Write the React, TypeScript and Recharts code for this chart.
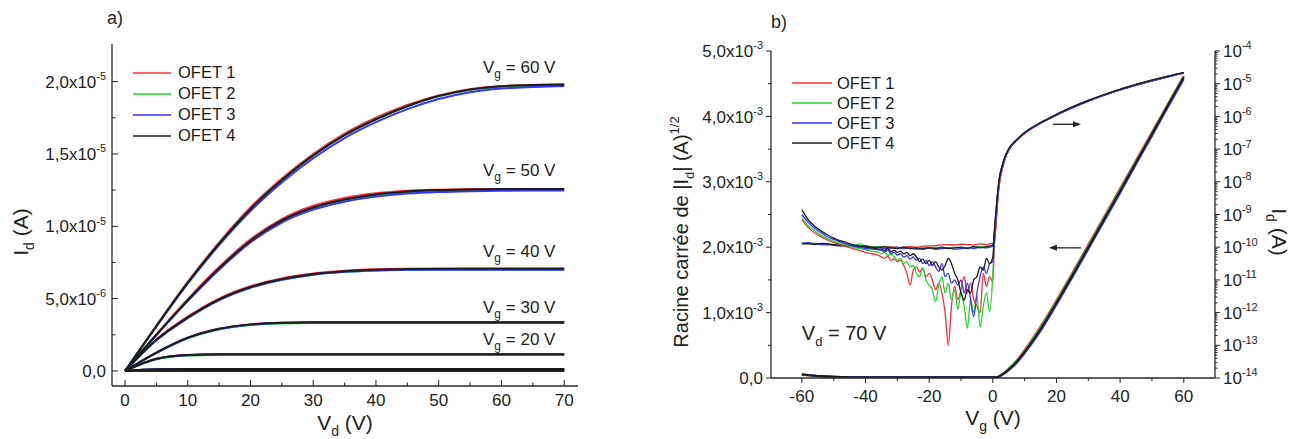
import React from 'react';
import { LineChart, Line, XAxis, YAxis, ReferenceDot, ReferenceLine, Legend } from 'recharts';

const FONT = '"Liberation Sans", Arial, Helvetica, sans-serif';
const INK = '#222';
const TICK_FS = 17;

const ofetNames = ['OFET 1', 'OFET 2', 'OFET 3', 'OFET 4'];
const ofetColors = ['#ff2b3a', '#22d82a', '#3535ff', '#1c1c1c'];

// ---------------- Panel a : output curves, Id (µA) vs Vd (V)
const vdValues = [0, 5, 10, 15, 20, 25, 30, 35, 40, 45, 50, 55, 60, 65, 70];
const vgCurveLevels = [60, 50, 40, 30, 20, 10, 0];

const idOfet1 = [
  [0, 3.13, 6.16, 8.88, 11.3, 13.3, 15.0, 16.4, 17.5, 18.38, 19.05, 19.48, 19.69, 19.77, 19.8],
  [0, 2.53, 4.96, 7.18, 9.1, 10.5, 11.42, 11.96, 12.28, 12.46, 12.53, 12.57, 12.58, 12.58, 12.58],
  [0, 2.17, 3.75, 5.0, 5.85, 6.4, 6.74, 6.93, 7.03, 7.06, 7.07, 7.08, 7.08, 7.08, 7.08],
  [0, 1.27, 2.3, 2.92, 3.22, 3.33, 3.36, 3.36, 3.36, 3.36, 3.36, 3.36, 3.36, 3.36, 3.36],
  [0, 0.85, 1.1, 1.15, 1.16, 1.16, 1.16, 1.16, 1.16, 1.16, 1.16, 1.16, 1.16, 1.16, 1.16],
  [0, 0.12, 0.14, 0.14, 0.14, 0.14, 0.14, 0.14, 0.14, 0.14, 0.14, 0.14, 0.14, 0.14, 0.14],
  [0, 0.01, 0.01, 0.01, 0.01, 0.01, 0.01, 0.01, 0.01, 0.01, 0.01, 0.01, 0.01, 0.01, 0.01],
];
const idOfet2 = [
  [0, 3.1, 6.1, 8.8, 11.2, 13.2, 14.9, 16.3, 17.4, 18.3, 18.98, 19.42, 19.64, 19.72, 19.77],
  [0, 2.5, 4.88, 7.07, 8.97, 10.37, 11.27, 11.8, 12.15, 12.35, 12.45, 12.5, 12.53, 12.54, 12.54],
  [0, 2.12, 3.66, 4.9, 5.75, 6.3, 6.65, 6.85, 6.95, 6.99, 7.01, 7.01, 7.01, 7.01, 7.01],
  [0, 1.23, 2.25, 2.87, 3.17, 3.28, 3.31, 3.31, 3.31, 3.31, 3.31, 3.31, 3.31, 3.31, 3.31],
  [0, 0.8, 1.06, 1.11, 1.12, 1.12, 1.12, 1.12, 1.12, 1.12, 1.12, 1.12, 1.12, 1.12, 1.12],
  [0, 0.11, 0.13, 0.13, 0.13, 0.13, 0.13, 0.13, 0.13, 0.13, 0.13, 0.13, 0.13, 0.13, 0.13],
  [0, 0.005, 0.005, 0.005, 0.005, 0.005, 0.005, 0.005, 0.005, 0.005, 0.005, 0.005, 0.005, 0.005, 0.005],
];
const idOfet3 = [
  [0, 3.07, 6.03, 8.7, 11.05, 13.02, 14.7, 16.1, 17.2, 18.1, 18.8, 19.27, 19.52, 19.63, 19.7],
  [0, 2.47, 4.83, 7.0, 8.88, 10.26, 11.15, 11.7, 12.05, 12.26, 12.37, 12.43, 12.46, 12.47, 12.48],
  [0, 2.12, 3.65, 4.9, 5.75, 6.3, 6.65, 6.85, 6.95, 6.99, 7.0, 7.0, 7.0, 7.0, 7.0],
  [0, 1.25, 2.28, 2.9, 3.2, 3.31, 3.34, 3.34, 3.34, 3.34, 3.34, 3.34, 3.34, 3.34, 3.34],
  [0, 0.83, 1.08, 1.13, 1.14, 1.14, 1.14, 1.14, 1.14, 1.14, 1.14, 1.14, 1.14, 1.14, 1.14],
  [0, 0.12, 0.14, 0.14, 0.14, 0.14, 0.14, 0.14, 0.14, 0.14, 0.14, 0.14, 0.14, 0.14, 0.14],
  [0, 0.01, 0.01, 0.01, 0.01, 0.01, 0.01, 0.01, 0.01, 0.01, 0.01, 0.01, 0.01, 0.01, 0.01],
];
const idOfet4 = [
  [0, 3.1, 6.1, 8.8, 11.2, 13.2, 14.9, 16.3, 17.4, 18.3, 19.0, 19.45, 19.68, 19.76, 19.8],
  [0, 2.5, 4.9, 7.1, 9.0, 10.4, 11.3, 11.85, 12.2, 12.4, 12.5, 12.55, 12.57, 12.57, 12.57],
  [0, 2.15, 3.7, 4.95, 5.8, 6.35, 6.7, 6.9, 7.0, 7.04, 7.06, 7.06, 7.06, 7.06, 7.06],
  [0, 1.27, 2.3, 2.92, 3.22, 3.33, 3.36, 3.36, 3.36, 3.36, 3.36, 3.36, 3.36, 3.36, 3.36],
  [0, 0.84, 1.1, 1.15, 1.16, 1.16, 1.16, 1.16, 1.16, 1.16, 1.16, 1.16, 1.16, 1.16, 1.16],
  [0, 0.12, 0.14, 0.14, 0.14, 0.14, 0.14, 0.14, 0.14, 0.14, 0.14, 0.14, 0.14, 0.14, 0.14],
  [0, 0.01, 0.01, 0.01, 0.01, 0.01, 0.01, 0.01, 0.01, 0.01, 0.01, 0.01, 0.01, 0.01, 0.01],
];

const vgLabelLevels = [60, 50, 40, 30, 20];
const vgLabelIdMicro = [20.6, 13.45, 7.9, 4.0, 1.8];

const vdTicksMajor = [0, 10, 20, 30, 40, 50, 60, 70];
const vdTicksMinor = [5, 15, 25, 35, 45, 55, 65];
const idTicksMajor = [0, 5e-6, 1e-5, 1.5e-5, 2e-5];
const idTicksMinor = [2.5e-6, 7.5e-6, 1.25e-5, 1.75e-5];

// ---------------- Panel b : transfer curves, Vd = 70 V
// log10(Id / A) for the sweep that stays flat near 1e-10 A
const vgFlatSweep = [-60, -58, -56, -54, -52, -50, -48, -46, -44, -42, -40, -38, -36, -34, -32, -30, -28, -26, -24, -22, -20, -18, -16, -14, -12, -10, -8, -6, -4, -2, 0];
const logIdFlatOfet1 = [-9.88, -9.9, -9.88, -9.92, -9.9, -9.94, -9.92, -9.96, -9.94, -9.98, -9.96, -10.0, -9.98, -10.0, -9.98, -10.02, -10.0, -9.98, -10.0, -9.97, -9.96, -9.95, -9.93, -9.92, -9.93, -9.91, -9.92, -9.93, -9.9, -9.92, -9.88];
const logIdFlatOfet2 = [-9.86, -9.9, -9.88, -9.9, -9.94, -9.92, -9.96, -9.94, -9.98, -9.9, -9.96, -10.0, -9.98, -10.02, -10.0, -10.04, -10.0, -10.02, -10.04, -10.0, -10.02, -10.0, -10.04, -10.02, -10.0, -10.04, -10.02, -10.0, -9.98, -10.0, -9.94];
const logIdFlatOfet3 = [-9.88, -9.86, -9.9, -9.92, -9.9, -9.94, -9.96, -9.94, -9.98, -10.0, -9.98, -10.02, -10.0, -10.04, -10.02, -10.0, -10.04, -10.02, -10.06, -10.04, -10.02, -10.06, -10.04, -10.02, -10.06, -10.04, -10.02, -10.04, -10.0, -10.02, -9.96];
const logIdFlatOfet4 = [-9.9, -9.88, -9.92, -9.88, -9.9, -9.92, -9.94, -9.96, -9.94, -9.98, -9.96, -10.0, -10.02, -9.98, -10.02, -10.04, -10.0, -10.04, -10.02, -10.06, -10.02, -10.04, -10.0, -10.04, -10.02, -10.0, -10.04, -9.98, -10.02, -9.98, -9.94];

// log10(Id / A) for the sweep with the decaying tail and noisy off-current
const vgNoisySweep = [-60, -58, -56, -54, -52, -50, -48, -46, -44, -42, -40, -38, -36, -35, -34, -33, -32, -31, -30, -29, -28, -27, -26, -25, -24, -23, -22, -21, -20, -19, -18, -17, -16, -15, -14, -13, -12, -11, -10, -9, -8, -7, -6, -5, -4, -3, -2, -1, 0];
const logIdNoisyOfet1 = [-9.16, -9.4, -9.56, -9.68, -9.78, -9.86, -9.92, -9.98, -10.04, -10.1, -10.16, -10.2, -10.24, -10.3, -10.34, -10.28, -10.4, -10.36, -10.44, -10.4, -10.56, -10.8, -11.16, -10.7, -10.6, -10.76, -10.64, -10.9, -10.8, -11.0, -11.3, -11.1, -11.4, -12.0, -13.0, -11.8, -11.2, -11.6, -11.3, -10.9, -11.4, -11.1, -11.6, -11.8, -12.0, -10.8, -11.2, -10.9, -11.06];
const logIdNoisyOfet2 = [-9.1, -9.34, -9.5, -9.64, -9.74, -9.82, -9.88, -9.94, -10.0, -10.04, -10.08, -10.12, -10.16, -10.2, -10.16, -10.26, -10.2, -10.3, -10.4, -10.34, -10.5, -10.44, -10.6, -10.56, -10.8, -10.9, -10.64, -11.0, -11.16, -11.3, -11.66, -11.2, -10.9, -11.4, -11.1, -11.6, -11.3, -11.9, -11.4, -11.8, -12.48, -11.6, -12.0, -11.5, -12.44, -11.8, -11.4, -11.98, -10.8];
const logIdNoisyOfet3 = [-9.0, -9.24, -9.42, -9.56, -9.68, -9.76, -9.84, -9.9, -9.96, -10.0, -10.04, -10.06, -10.08, -10.1, -10.14, -10.1, -10.2, -10.16, -10.24, -10.2, -10.3, -10.26, -10.36, -10.3, -10.4, -10.34, -10.5, -10.4, -10.56, -10.44, -10.6, -10.74, -10.5, -10.9, -10.8, -11.1, -11.0, -11.16, -11.0, -11.4, -11.1, -11.6, -12.12, -11.4, -10.9, -10.6, -10.8, -10.5, -10.44];
const logIdNoisyOfet4 = [-8.86, -9.16, -9.36, -9.5, -9.62, -9.72, -9.8, -9.86, -9.92, -9.96, -10.0, -10.02, -10.06, -10.06, -10.1, -10.04, -10.14, -10.1, -10.16, -10.12, -10.2, -10.16, -10.26, -10.2, -10.3, -10.44, -10.36, -10.5, -10.4, -10.56, -10.44, -10.6, -10.7, -10.56, -10.34, -10.5, -10.8, -11.0, -11.4, -11.62, -11.3, -11.4, -11.0, -10.9, -10.6, -10.7, -10.34, -10.5, -10.3];

// log10(Id / A) in the on-state
const vgRise = [0.5, 1, 1.5, 2, 3, 4, 5, 7.5, 10, 15, 20, 25, 30, 35, 40, 45, 50, 55, 60];
const logIdRiseOfet1 = [-9.9, -9.3, -8.6, -8.1, -7.6, -7.25, -7.03, -6.74, -6.52, -6.21, -5.96, -5.73, -5.53, -5.35, -5.19, -5.04, -4.91, -4.79, -4.68];
const logIdRiseOfet2 = [-9.6, -9.0, -8.4, -7.95, -7.5, -7.2, -7.0, -6.72, -6.5, -6.2, -5.95, -5.72, -5.52, -5.34, -5.18, -5.03, -4.9, -4.78, -4.67];
const logIdRiseOfet3 = [-9.7, -9.1, -8.5, -8.0, -7.55, -7.23, -7.02, -6.73, -6.51, -6.21, -5.96, -5.73, -5.53, -5.35, -5.19, -5.04, -4.91, -4.79, -4.68];
const logIdRiseOfet4 = [-9.5, -8.9, -8.35, -7.92, -7.48, -7.19, -6.99, -6.71, -6.49, -6.19, -5.94, -5.71, -5.51, -5.33, -5.17, -5.02, -4.89, -4.77, -4.66];

// sqrt(|Id|) in units of 1e-3 A^1/2
const vgSqrt = [-60, -58, -56, -54, -52, -50, -45, -40, -30, -20, -10, 0, 1, 2, 3, 4, 5, 7.5, 10, 15, 20, 25, 30, 35, 40, 45, 50, 55, 60];
const sqrtIdOfet1 = [0.05, 0.04, 0.033, 0.027, 0.022, 0.018, 0.012, 0.01, 0.01, 0.01, 0.01, 0.01, 0.012, 0.03, 0.065, 0.1, 0.145, 0.27, 0.43, 0.79, 1.19, 1.61, 2.04, 2.47, 2.9, 3.33, 3.76, 4.19, 4.62];
const sqrtIdOfet2 = [0.05, 0.042, 0.034, 0.028, 0.022, 0.018, 0.012, 0.01, 0.01, 0.01, 0.01, 0.01, 0.011, 0.027, 0.06, 0.095, 0.135, 0.26, 0.41, 0.77, 1.17, 1.59, 2.02, 2.45, 2.88, 3.31, 3.74, 4.18, 4.61];
const sqrtIdOfet3 = [0.053, 0.044, 0.035, 0.028, 0.023, 0.019, 0.013, 0.01, 0.01, 0.01, 0.01, 0.01, 0.01, 0.022, 0.048, 0.08, 0.12, 0.23, 0.38, 0.72, 1.12, 1.54, 1.97, 2.4, 2.83, 3.27, 3.7, 4.14, 4.57];
const sqrtIdOfet4 = [0.056, 0.046, 0.036, 0.029, 0.023, 0.019, 0.013, 0.01, 0.01, 0.01, 0.01, 0.01, 0.011, 0.026, 0.056, 0.09, 0.13, 0.25, 0.4, 0.75, 1.15, 1.57, 2.0, 2.43, 2.86, 3.3, 3.73, 4.17, 4.6];

const vgTicksMajor = [-60, -40, -20, 0, 20, 40, 60];
const vgTicksMinor = [-50, -30, -10, 10, 30, 50];
const sqrtTicksMajor = [0, 1e-3, 2e-3, 3e-3, 4e-3, 5e-3];
const sqrtTicksMinor = [0.5e-3, 1.5e-3, 2.5e-3, 3.5e-3, 4.5e-3];
const logTicksMajor = [1e-14, 1e-13, 1e-12, 1e-11, 1e-10, 1e-9, 1e-8, 1e-7, 1e-6, 1e-5, 1e-4];
const logTicksMinor = logTicksMajor.slice(0, -1).flatMap((m) => [2, 3, 4, 5, 6, 7, 8, 9].map((k) => m * k));

// ---------------- built tables
const panelA = [idOfet1, idOfet2, idOfet3, idOfet4].map((table) =>
  vgCurveLevels.map((vg, r) => ({ vg, data: vdValues.map((vd, i) => ({ vd, id: table[r][i] * 1e-6 })) }))
);
const toLog = (vgs: number[], exps: number[]) => vgs.map((vg, i) => ({ vg, id: Math.pow(10, exps[i]) }));
const flatLogs = [logIdFlatOfet1, logIdFlatOfet2, logIdFlatOfet3, logIdFlatOfet4];
const noisyLogs = [logIdNoisyOfet1, logIdNoisyOfet2, logIdNoisyOfet3, logIdNoisyOfet4];
const riseLogs = [logIdRiseOfet1, logIdRiseOfet2, logIdRiseOfet3, logIdRiseOfet4];
const panelBFlat = flatLogs.map((f, k) => [...toLog(vgFlatSweep, f), ...toLog(vgRise, riseLogs[k])]);
const panelBNoisy = noisyLogs.map((f, k) => [...toLog(vgNoisySweep, f), ...toLog(vgRise, riseLogs[k])]);
const panelBSqrt = [sqrtIdOfet1, sqrtIdOfet2, sqrtIdOfet3, sqrtIdOfet4].map((s) => vgSqrt.map((vg, i) => ({ vg, s: s[i] * 1e-3 })));

// ---------------- tick helpers
type Fmt = (v: number) => { base: string; exp: string | null };
const sciComma: Fmt = (v) => {
  if (Math.abs(v) < 1e-30) return { base: '0,0', exp: null };
  const e = Math.floor(Math.log10(Math.abs(v)) + 1e-9);
  const m = v / Math.pow(10, e);
  return { base: m.toFixed(1).replace('.', ',') + 'x10', exp: String(e) };
};
const plain: Fmt = (v) => ({ base: String(Math.round(v)), exp: null });
const pow10: Fmt = (v) => ({ base: '10', exp: String(Math.round(Math.log10(v))) });

const isIn = (arr: number[], v: number) =>
  arr.some((m) => Math.abs(m - v) <= Math.max(Math.abs(m), Math.abs(v)) * 1e-6 + 1e-20);

interface TickSpec {
  side: 'bottom' | 'top' | 'left' | 'right';
  outward: boolean;
  majors: number[];
  majorLen: number;
  minorLen: number;
  format?: Fmt;
  gap?: number;
  fontSize?: number;
}

const makeTick = (spec: TickSpec) => (props: any) => {
  const { x, y, payload } = props;
  const v = Number(payload.value);
  const major = isIn(spec.majors, v);
  const len = (major ? spec.majorLen : spec.minorLen) * (spec.outward ? 1 : -1);
  let x2 = x;
  let y2 = y;
  if (spec.side === 'bottom') y2 = y + len;
  if (spec.side === 'top') y2 = y - len;
  if (spec.side === 'left') x2 = x - len;
  if (spec.side === 'right') x2 = x + len;
  const fs = spec.fontSize ?? TICK_FS;
  const gap = spec.gap ?? 0;
  let label: React.ReactNode = null;
  if (major && spec.format) {
    const f = spec.format(v);
    const sup = f.exp !== null ? (
      <tspan dy={-fs * 0.45} fontSize={fs * 0.64}>{f.exp}</tspan>
    ) : null;
    const common = { fill: INK, fontSize: fs, fontFamily: FONT };
    if (spec.side === 'bottom') {
      label = (
        <text x={x} y={y + gap} textAnchor="middle" {...common}>
          <tspan>{f.base}</tspan>
          {sup}
        </text>
      );
    } else if (spec.side === 'left') {
      label = (
        <text x={x - gap} y={y + fs * 0.36} textAnchor="end" {...common}>
          <tspan>{f.base}</tspan>
          {sup}
        </text>
      );
    } else if (spec.side === 'right') {
      label = (
        <text x={x + gap} y={y + fs * 0.36} textAnchor="start" {...common}>
          <tspan>{f.base}</tspan>
          {sup}
        </text>
      );
    }
  }
  return (
    <g>
      <line x1={x} y1={y} x2={x2} y2={y2} stroke={INK} strokeWidth={1} />
      {label}
    </g>
  );
};

const axisLine = { stroke: '#2a2a2a', strokeWidth: 1.3 };

const OfetLegend = ({ lineLen, rowH, gap, lineW }: { lineLen: number; rowH: number; gap: number; lineW: number }) => (
  <div style={{ fontFamily: FONT, fontSize: 16.5, color: '#1a1a1a' }}>
    {ofetNames.map((n, i) => (
      <div key={n} style={{ display: 'flex', alignItems: 'center', height: rowH }}>
        <svg width={lineLen} height={4} style={{ display: 'block' }}>
          <line x1={0} x2={lineLen} y1={2} y2={2} stroke={ofetColors[i]} strokeWidth={lineW} />
        </svg>
        <span style={{ marginLeft: gap, lineHeight: 1 }}>{n}</span>
      </div>
    ))}
  </div>
);

const Arrow = (props: any) => {
  const { x1, y1, x2, y2 } = props;
  const sgn = x2 >= x1 ? 1 : -1;
  return (
    <g>
      <line x1={x1} y1={y1} x2={x2 - sgn * 5} y2={y2} stroke="#222" strokeWidth={1.3} />
      <polygon points={`${x2},${y2} ${x2 - sgn * 8},${y2 - 3} ${x2 - sgn * 8},${y2 + 3}`} fill="#222" />
    </g>
  );
};

const PanelA = () => (
  <LineChart width={600} height={439} margin={{ top: 44, right: 22, bottom: 0, left: 0 }}>
    <XAxis
      xAxisId="bx"
      type="number"
      dataKey="vd"
      domain={[-2.07, 72.2]}
      allowDataOverflow
      ticks={[...vdTicksMajor, ...vdTicksMinor]}
      interval={0}
      height={53}
      tickSize={0}
      tickMargin={0}
      tickLine={false}
      axisLine={axisLine}
      tick={makeTick({ side: 'bottom', outward: false, majors: vdTicksMajor, majorLen: 6, minorLen: 3.5, format: plain, gap: 20 })}
      label={() => (
        <text x={345} y={430} textAnchor="middle" fill={INK} fontSize={21} fontFamily={FONT}>
          <tspan>V</tspan>
          <tspan dy={6} fontSize={14}>d</tspan>
          <tspan dy={-6}> (V)</tspan>
        </text>
      )}
    />
    <XAxis
      xAxisId="tx"
      orientation="top"
      type="number"
      domain={[-2.07, 72.2]}
      allowDataOverflow
      ticks={[...vdTicksMajor, ...vdTicksMinor]}
      interval={0}
      height={0}
      tickSize={0}
      tickMargin={0}
      tickLine={false}
      axisLine={axisLine}
      tick={makeTick({ side: 'top', outward: false, majors: vdTicksMajor, majorLen: 6, minorLen: 3.5 })}
    />
    <YAxis
      yAxisId="ly"
      type="number"
      domain={[-1.04e-6, 2.26e-5]}
      allowDataOverflow
      ticks={[...idTicksMajor, ...idTicksMinor]}
      interval={0}
      width={112}
      tickSize={0}
      tickMargin={0}
      tickLine={false}
      axisLine={axisLine}
      tick={makeTick({ side: 'left', outward: false, majors: idTicksMajor, majorLen: 6, minorLen: 3.5, format: sciComma, gap: 6 })}
      label={() => (
        <text x={28} y={232} transform="rotate(-90 28 232)" textAnchor="middle" fill={INK} fontSize={21} fontFamily={FONT}>
          <tspan>I</tspan>
          <tspan dy={6} fontSize={14}>d</tspan>
          <tspan dy={-6}> (A)</tspan>
        </text>
      )}
    />
    <YAxis
      yAxisId="ry"
      orientation="right"
      type="number"
      domain={[-1.04e-6, 2.26e-5]}
      allowDataOverflow
      ticks={[...idTicksMajor, ...idTicksMinor]}
      interval={0}
      width={0}
      tickSize={0}
      tickMargin={0}
      tickLine={false}
      axisLine={axisLine}
      tick={makeTick({ side: 'right', outward: false, majors: idTicksMajor, majorLen: 6, minorLen: 3.5 })}
    />
    {panelA.flatMap((curves, k) =>
      curves.map((c) => (
        <Line
          key={`a-${k}-${c.vg}`}
          xAxisId="bx"
          yAxisId="ly"
          data={c.data}
          dataKey="id"
          name={ofetNames[k]}
          type="monotone"
          stroke={ofetColors[k]}
          strokeWidth={2}
          dot={false}
          activeDot={false}
          isAnimationActive={false}
        />
      ))
    )}
    {vgLabelLevels.map((vg, i) => (
      <ReferenceDot
        key={`lab-${vg}`}
        xAxisId="bx"
        yAxisId="ly"
        x={68.6}
        y={vgLabelIdMicro[i] * 1e-6}
        r={0}
        ifOverflow="visible"
        shape={(p: any) => (
          <text x={p.cx} y={p.cy} textAnchor="end" fill={INK} fontSize={17} fontFamily={FONT}>
            <tspan>V</tspan>
            <tspan dy={5} fontSize={12}>g</tspan>
            <tspan dy={-5}>{` = ${vg} V`}</tspan>
          </text>
        )}
      />
    ))}
    <Legend
      layout="horizontal"
      verticalAlign="middle"
      align="center"
      wrapperStyle={{ left: 133, top: 62, width: 'auto', height: 'auto' }}
      content={() => <OfetLegend lineLen={38} rowH={21} gap={7} lineW={1.6} />}
    />
  </LineChart>
);

const PanelB = () => (
  <LineChart width={658} height={439} margin={{ top: 51, right: 0, bottom: 0, left: 0 }}>
    <XAxis
      xAxisId="bx"
      type="number"
      dataKey="vg"
      domain={[-69.7, 69.8]}
      allowDataOverflow
      ticks={[...vgTicksMajor, ...vgTicksMinor]}
      interval={0}
      height={61}
      tickSize={0}
      tickMargin={0}
      tickLine={false}
      axisLine={axisLine}
      tick={makeTick({ side: 'bottom', outward: true, majors: vgTicksMajor, majorLen: 5, minorLen: 3, format: plain, gap: 24 })}
      label={() => (
        <text x={353} y={425} textAnchor="middle" fill={INK} fontSize={21} fontFamily={FONT}>
          <tspan>V</tspan>
          <tspan dy={6} fontSize={14}>g</tspan>
          <tspan dy={-6}> (V)</tspan>
        </text>
      )}
    />
    <XAxis
      xAxisId="tx"
      orientation="top"
      type="number"
      domain={[-69.7, 69.8]}
      allowDataOverflow
      ticks={[...vgTicksMajor, ...vgTicksMinor]}
      interval={0}
      height={0}
      tickSize={0}
      tickMargin={0}
      tickLine={false}
      axisLine={axisLine}
      tick={makeTick({ side: 'top', outward: false, majors: vgTicksMajor, majorLen: 5, minorLen: 3 })}
    />
    <YAxis
      yAxisId="sq"
      type="number"
      domain={[0, 5e-3]}
      allowDataOverflow
      ticks={[...sqrtTicksMajor, ...sqrtTicksMinor]}
      interval={0}
      width={131}
      tickSize={0}
      tickMargin={0}
      tickLine={false}
      axisLine={axisLine}
      tick={makeTick({ side: 'left', outward: true, majors: sqrtTicksMajor, majorLen: 5, minorLen: 3, format: sciComma, gap: 8 })}
      label={() => (
        <text x={48} y={232} transform="rotate(-90 48 232)" textAnchor="middle" fill={INK} fontSize={20} fontFamily={FONT}>
          <tspan>Racine carrée de |I</tspan>
          <tspan dy={6} fontSize={13}>d</tspan>
          <tspan dy={-6}>| (A)</tspan>
          <tspan dy={-9} fontSize={13}>1/2</tspan>
        </text>
      )}
    />
    <YAxis
      yAxisId="log"
      orientation="right"
      type="number"
      scale="log"
      domain={[1e-14, 1e-4]}
      allowDataOverflow
      ticks={[...logTicksMajor, ...logTicksMinor]}
      interval={0}
      width={83}
      tickSize={0}
      tickMargin={0}
      tickLine={false}
      axisLine={axisLine}
      tick={makeTick({ side: 'right', outward: true, majors: logTicksMajor, majorLen: 5, minorLen: 2.5, format: pow10, gap: 8 })}
      label={() => (
        <text x={632} y={232} transform="rotate(90 632 232)" textAnchor="middle" fill={INK} fontSize={21} fontFamily={FONT}>
          <tspan>I</tspan>
          <tspan dy={6} fontSize={14}>d</tspan>
          <tspan dy={-6}> (A)</tspan>
        </text>
      )}
    />
    {panelBFlat.map((d, k) => (
      <Line key={`bf-${k}`} xAxisId="bx" yAxisId="log" data={d} dataKey="id" name={ofetNames[k]} type="monotone"
        stroke={ofetColors[k]} strokeWidth={1.3} dot={false} activeDot={false} isAnimationActive={false} />
    ))}
    {panelBNoisy.map((d, k) => (
      <Line key={`bn-${k}`} xAxisId="bx" yAxisId="log" data={d} dataKey="id" name={ofetNames[k]} type="monotone"
        stroke={ofetColors[k]} strokeWidth={1.3} dot={false} activeDot={false} isAnimationActive={false} />
    ))}
    {panelBSqrt.map((d, k) => (
      <Line key={`bs-${k}`} xAxisId="bx" yAxisId="sq" data={d} dataKey="s" name={ofetNames[k]} type="monotone"
        stroke={ofetColors[k]} strokeWidth={2} dot={false} activeDot={false} isAnimationActive={false} />
    ))}
    <ReferenceLine
      xAxisId="bx"
      yAxisId="sq"
      segment={[{ x: 18.9, y: 3.88e-3 }, { x: 27.7, y: 3.88e-3 }]}
      ifOverflow="visible"
      shape={Arrow}
    />
    <ReferenceLine
      xAxisId="bx"
      yAxisId="sq"
      segment={[{ x: 27.7, y: 1.99e-3 }, { x: 17.6, y: 1.99e-3 }]}
      ifOverflow="visible"
      shape={Arrow}
    />
    <ReferenceDot
      xAxisId="bx"
      yAxisId="sq"
      x={-60}
      y={0.58e-3}
      r={0}
      ifOverflow="visible"
      shape={(p: any) => (
        <text x={p.cx} y={p.cy} textAnchor="start" fill={INK} fontSize={20} fontFamily={FONT}>
          <tspan>V</tspan>
          <tspan dy={6} fontSize={13}>d</tspan>
          <tspan dy={-6}> = 70 V</tspan>
        </text>
      )}
    />
    <Legend
      layout="horizontal"
      verticalAlign="middle"
      align="center"
      wrapperStyle={{ left: 152, top: 73, width: 'auto', height: 'auto' }}
      content={() => <OfetLegend lineLen={40} rowH={20} gap={5} lineW={1.3} />}
    />
  </LineChart>
);

export default function App() {
  return (
    <div style={{ position: 'absolute', left: 0, top: 0, width: 1298, height: 439, background: '#fff', overflow: 'hidden' }}>
      <div style={{ position: 'absolute', left: 0, top: 0 }}>
        <PanelA />
      </div>
      <div style={{ position: 'absolute', left: 640, top: 0 }}>
        <PanelB />
      </div>
      <div style={{ position: 'absolute', left: 107, top: 9, fontFamily: FONT, fontSize: 18, lineHeight: '18px', color: INK }}>a)</div>
      <div style={{ position: 'absolute', left: 771, top: 13, fontFamily: FONT, fontSize: 18, lineHeight: '18px', color: INK }}>b)</div>
    </div>
  );
}
